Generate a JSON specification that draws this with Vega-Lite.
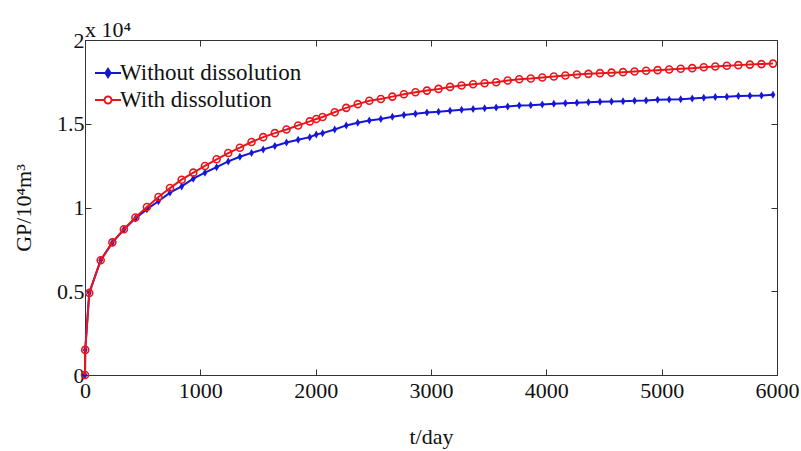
{
  "$schema": "https://vega.github.io/schema/vega-lite/v6.json",
  "width": 692,
  "height": 335,
  "autosize": {"type": "none"},
  "padding": {"left": 85, "top": 40, "right": 24, "bottom": 76},
  "background": "white",
  "title": {"text": "x 10⁴", "anchor": "start", "frame": "group", "orient": "top", "offset": 4, "dy": 34, "baseline": "alphabetic", "font": "Liberation Serif", "fontSize": 22, "fontWeight": "normal", "color": "#111"},
  "config": {
    "view": {"stroke": "#333", "strokeWidth": 1},
    "axis": {"grid": false, "domainColor": "#333", "tickColor": "#333", "labelFont": "Liberation Serif", "labelFontSize": 22, "labelColor": "#111", "titleFont": "Liberation Serif", "titleFontSize": 22, "titleFontWeight": "normal", "titleColor": "#111", "labelFlush": false}
  },
  "data": {"values": [
    {"t":0,"gp":0,"s":"Without dissolution"},{"t":2,"gp":0.15,"s":"Without dissolution"},{"t":37,"gp":0.49,"s":"Without dissolution"},{"t":136,"gp":0.685,"s":"Without dissolution"},{"t":237,"gp":0.79,"s":"Without dissolution"},{"t":337,"gp":0.868,"s":"Without dissolution"},{"t":437,"gp":0.935,"s":"Without dissolution"},{"t":537,"gp":0.99,"s":"Without dissolution"},{"t":637,"gp":1.037,"s":"Without dissolution"},{"t":737,"gp":1.089,"s":"Without dissolution"},{"t":838,"gp":1.126,"s":"Without dissolution"},{"t":939,"gp":1.172,"s":"Without dissolution"},{"t":1040,"gp":1.208,"s":"Without dissolution"},{"t":1141,"gp":1.241,"s":"Without dissolution"},{"t":1242,"gp":1.275,"s":"Without dissolution"},{"t":1343,"gp":1.303,"s":"Without dissolution"},{"t":1444,"gp":1.326,"s":"Without dissolution"},{"t":1545,"gp":1.347,"s":"Without dissolution"},{"t":1646,"gp":1.367,"s":"Without dissolution"},{"t":1747,"gp":1.388,"s":"Without dissolution"},{"t":1848,"gp":1.404,"s":"Without dissolution"},{"t":1949,"gp":1.42,"s":"Without dissolution"},{"t":2005,"gp":1.436,"s":"Without dissolution"},{"t":2060,"gp":1.444,"s":"Without dissolution"},{"t":2165,"gp":1.466,"s":"Without dissolution"},{"t":2265,"gp":1.49,"s":"Without dissolution"},{"t":2365,"gp":1.506,"s":"Without dissolution"},{"t":2465,"gp":1.52,"s":"Without dissolution"},{"t":2565,"gp":1.528,"s":"Without dissolution"},{"t":2665,"gp":1.542,"s":"Without dissolution"},{"t":2765,"gp":1.552,"s":"Without dissolution"},{"t":2865,"gp":1.56,"s":"Without dissolution"},{"t":2965,"gp":1.567,"s":"Without dissolution"},{"t":3065,"gp":1.571,"s":"Without dissolution"},{"t":3165,"gp":1.578,"s":"Without dissolution"},{"t":3265,"gp":1.584,"s":"Without dissolution"},{"t":3365,"gp":1.588,"s":"Without dissolution"},{"t":3465,"gp":1.593,"s":"Without dissolution"},{"t":3565,"gp":1.597,"s":"Without dissolution"},{"t":3665,"gp":1.603,"s":"Without dissolution"},{"t":3765,"gp":1.609,"s":"Without dissolution"},{"t":3865,"gp":1.611,"s":"Without dissolution"},{"t":3965,"gp":1.615,"s":"Without dissolution"},{"t":4065,"gp":1.619,"s":"Without dissolution"},{"t":4165,"gp":1.623,"s":"Without dissolution"},{"t":4265,"gp":1.625,"s":"Without dissolution"},{"t":4365,"gp":1.629,"s":"Without dissolution"},{"t":4465,"gp":1.631,"s":"Without dissolution"},{"t":4565,"gp":1.633,"s":"Without dissolution"},{"t":4665,"gp":1.635,"s":"Without dissolution"},{"t":4765,"gp":1.637,"s":"Without dissolution"},{"t":4865,"gp":1.639,"s":"Without dissolution"},{"t":4965,"gp":1.643,"s":"Without dissolution"},{"t":5065,"gp":1.645,"s":"Without dissolution"},{"t":5165,"gp":1.647,"s":"Without dissolution"},{"t":5265,"gp":1.651,"s":"Without dissolution"},{"t":5365,"gp":1.655,"s":"Without dissolution"},{"t":5465,"gp":1.659,"s":"Without dissolution"},{"t":5565,"gp":1.661,"s":"Without dissolution"},{"t":5665,"gp":1.665,"s":"Without dissolution"},{"t":5765,"gp":1.667,"s":"Without dissolution"},{"t":5865,"gp":1.669,"s":"Without dissolution"},{"t":5965,"gp":1.673,"s":"Without dissolution"},
    {"t":0,"gp":0,"s":"With dissolution"},{"t":2,"gp":0.15,"s":"With dissolution"},{"t":37,"gp":0.49,"s":"With dissolution"},{"t":136,"gp":0.685,"s":"With dissolution"},{"t":237,"gp":0.792,"s":"With dissolution"},{"t":337,"gp":0.87,"s":"With dissolution"},{"t":437,"gp":0.94,"s":"With dissolution"},{"t":537,"gp":1.003,"s":"With dissolution"},{"t":637,"gp":1.063,"s":"With dissolution"},{"t":737,"gp":1.116,"s":"With dissolution"},{"t":838,"gp":1.166,"s":"With dissolution"},{"t":939,"gp":1.208,"s":"With dissolution"},{"t":1040,"gp":1.248,"s":"With dissolution"},{"t":1141,"gp":1.288,"s":"With dissolution"},{"t":1242,"gp":1.325,"s":"With dissolution"},{"t":1343,"gp":1.357,"s":"With dissolution"},{"t":1444,"gp":1.391,"s":"With dissolution"},{"t":1545,"gp":1.42,"s":"With dissolution"},{"t":1646,"gp":1.444,"s":"With dissolution"},{"t":1747,"gp":1.466,"s":"With dissolution"},{"t":1848,"gp":1.49,"s":"With dissolution"},{"t":1949,"gp":1.514,"s":"With dissolution"},{"t":2005,"gp":1.528,"s":"With dissolution"},{"t":2060,"gp":1.54,"s":"With dissolution"},{"t":2165,"gp":1.569,"s":"With dissolution"},{"t":2265,"gp":1.595,"s":"With dissolution"},{"t":2365,"gp":1.617,"s":"With dissolution"},{"t":2465,"gp":1.637,"s":"With dissolution"},{"t":2565,"gp":1.648,"s":"With dissolution"},{"t":2665,"gp":1.662,"s":"With dissolution"},{"t":2765,"gp":1.676,"s":"With dissolution"},{"t":2865,"gp":1.688,"s":"With dissolution"},{"t":2965,"gp":1.698,"s":"With dissolution"},{"t":3065,"gp":1.708,"s":"With dissolution"},{"t":3165,"gp":1.72,"s":"With dissolution"},{"t":3265,"gp":1.728,"s":"With dissolution"},{"t":3365,"gp":1.736,"s":"With dissolution"},{"t":3465,"gp":1.742,"s":"With dissolution"},{"t":3565,"gp":1.748,"s":"With dissolution"},{"t":3665,"gp":1.758,"s":"With dissolution"},{"t":3765,"gp":1.766,"s":"With dissolution"},{"t":3865,"gp":1.77,"s":"With dissolution"},{"t":3965,"gp":1.776,"s":"With dissolution"},{"t":4065,"gp":1.782,"s":"With dissolution"},{"t":4165,"gp":1.788,"s":"With dissolution"},{"t":4265,"gp":1.794,"s":"With dissolution"},{"t":4365,"gp":1.798,"s":"With dissolution"},{"t":4465,"gp":1.802,"s":"With dissolution"},{"t":4565,"gp":1.805,"s":"With dissolution"},{"t":4665,"gp":1.808,"s":"With dissolution"},{"t":4765,"gp":1.812,"s":"With dissolution"},{"t":4865,"gp":1.816,"s":"With dissolution"},{"t":4965,"gp":1.82,"s":"With dissolution"},{"t":5065,"gp":1.824,"s":"With dissolution"},{"t":5165,"gp":1.828,"s":"With dissolution"},{"t":5265,"gp":1.832,"s":"With dissolution"},{"t":5365,"gp":1.837,"s":"With dissolution"},{"t":5465,"gp":1.842,"s":"With dissolution"},{"t":5565,"gp":1.846,"s":"With dissolution"},{"t":5665,"gp":1.85,"s":"With dissolution"},{"t":5765,"gp":1.853,"s":"With dissolution"},{"t":5865,"gp":1.856,"s":"With dissolution"},{"t":5965,"gp":1.859,"s":"With dissolution"}
  ]},
  "resolve": {"axis": {"x": "independent", "y": "independent"}},
  "layer": [
    {
      "transform": [{"filter": "datum.s === 'Without dissolution'"}],
      "mark": {"type": "line", "strokeWidth": 2},
      "encoding": {
        "x": {"field": "t", "type": "quantitative", "scale": {"domain": [0, 6000], "nice": false}, "axis": {"orient": "bottom", "values": [0,1000,2000,3000,4000,5000,6000], "format": "d", "tickSize": -6, "labelPadding": 11, "title": "t/day", "titlePadding": 25}},
        "y": {"field": "gp", "type": "quantitative", "scale": {"domain": [0, 2], "nice": false, "zero": false}, "axis": {"orient": "left", "values": [0,0.5,1,1.5,2], "format": "~g", "tickSize": -6, "labelPadding": 7, "title": "GP/10⁴m³", "titleX": -62, "titleY": 167.5, "titleAngle": -90, "titleAlign": "center", "titleBaseline": "middle"}},
        "color": {"field": "s", "type": "nominal", "scale": {"domain": ["Without dissolution", "With dissolution"], "range": ["#1616d9", "#e8161b"]},
          "legend": {"title": null, "orient": "none", "legendX": 9, "legendY": 19, "padding": 0, "rowPadding": 1, "symbolSize": 676, "labelOffset": -2, "labelFont": "Liberation Serif", "labelFontSize": 23, "labelColor": "#111", "labelLimit": 400,
            "encode": {"symbols": {"update": {
              "shape": {"signal": "datum.value === 'With dissolution' ? 'M-1,0H-0.27M0.27,0H1M0.27,0A0.27,0.27 0 1 1 -0.27,0A0.27,0.27 0 1 1 0.27,0Z' : 'M-1,0H1M0,-0.32L0.2,0L0,0.32L-0.2,0Z'"},
              "fill": {"signal": "datum.value === 'With dissolution' ? 'transparent' : '#1616d9'"},
              "stroke": {"signal": "datum.value === 'With dissolution' ? '#e8161b' : '#1616d9'"},
              "strokeWidth": {"value": 2},
              "opacity": {"value": 1}
            }}}}}
      }
    },
    {
      "transform": [{"filter": "datum.s === 'Without dissolution'"}],
      "mark": {"type": "point", "filled": true, "shape": "M0,-1L0.6,0L0,1L-0.6,0Z", "size": 64, "color": "#1616d9", "opacity": 1},
      "encoding": {
        "x": {"field": "t", "type": "quantitative", "axis": {"orient": "top", "values": [0,1000,2000,3000,4000,5000,6000], "labels": false, "domain": false, "tickSize": -6, "title": null}},
        "y": {"field": "gp", "type": "quantitative", "axis": {"orient": "right", "values": [0,0.5,1,1.5,2], "labels": false, "domain": false, "tickSize": -6, "title": null}}
      }
    },
    {
      "transform": [{"filter": "datum.s === 'With dissolution'"}],
      "mark": {"type": "line", "strokeWidth": 2},
      "encoding": {
        "x": {"field": "t", "type": "quantitative", "axis": null},
        "y": {"field": "gp", "type": "quantitative", "axis": null},
        "color": {"field": "s", "type": "nominal", "legend": null}
      }
    },
    {
      "transform": [{"filter": "datum.s === 'With dissolution'"}],
      "mark": {"type": "point", "filled": false, "shape": "circle", "size": 49, "strokeWidth": 1.6, "color": "#e8161b", "opacity": 1},
      "encoding": {
        "x": {"field": "t", "type": "quantitative", "axis": null},
        "y": {"field": "gp", "type": "quantitative", "axis": null}
      }
    }
  ]
}
